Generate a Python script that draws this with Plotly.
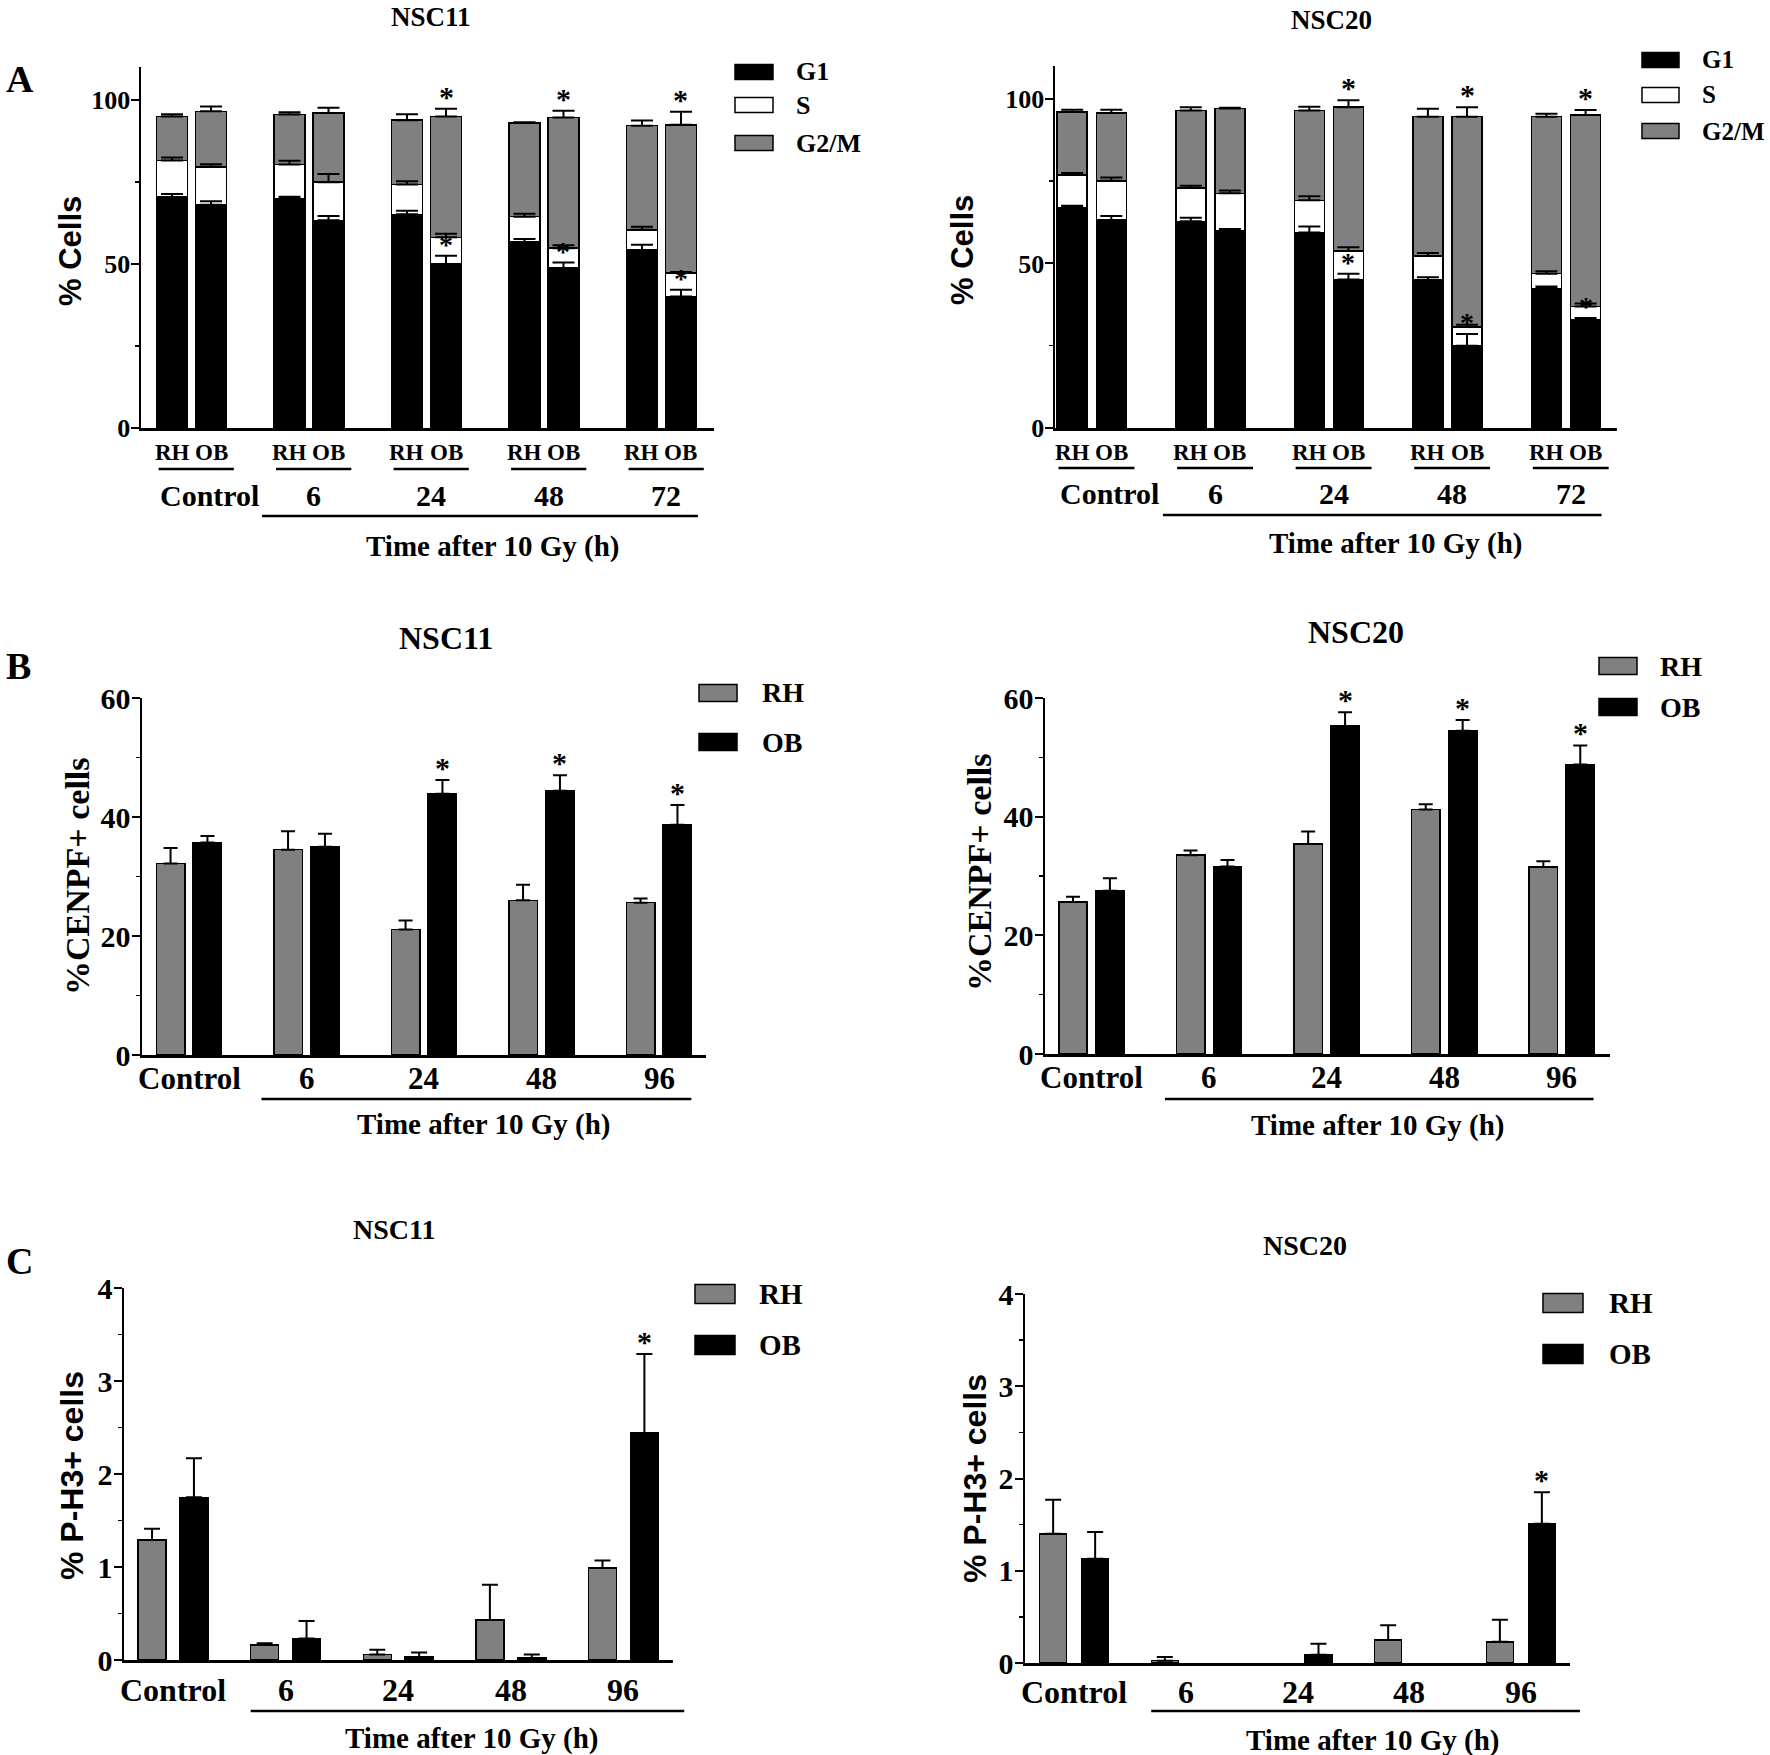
import plotly.graph_objects as go

W, H = 1770, 1755
SERIF = "Liberation Serif, Times New Roman, serif"
SANS = "Liberation Sans, Arial, sans-serif"
GRAY = "#808080"

# ---------------- data ----------------
groups_A = ["Control", "6", "24", "48", "72"]
groups_BC = ["Control", "6", "24", "48", "96"]
sub_labels = ["RH", "OB"]
phases = ["G1", "S", "G2/M"]

# Panel A - NSC11 (% cells in each phase)
a11_rh_g1 = [70.4, 70.0, 65.1, 56.7, 54.2]
a11_rh_s = [11.1, 10.3, 9.1, 7.7, 6.2]
a11_rh_g2m = [13.4, 15.2, 19.6, 28.5, 31.7]
a11_rh_g1_err = [0.9, 0.5, 1.1, 0.9, 1.6]
a11_rh_s_err = [0.9, 1.1, 1.0, 0.9, 0.9]
a11_rh_g2m_err = [0.7, 0.7, 1.8, 0.3, 1.6]
a11_ob_g1 = [68.0, 63.3, 50.0, 48.7, 40.1]
a11_ob_s = [11.6, 11.6, 8.1, 6.1, 7.1]
a11_ob_g2m = [16.9, 21.1, 36.8, 39.8, 45.2]
a11_ob_g1_err = [1.1, 1.3, 2.5, 1.7, 2.0]
a11_ob_s_err = [0.8, 2.5, 1.1, 0.9, 0.3]
a11_ob_g2m_err = [1.5, 1.6, 2.4, 2.1, 4.0]
a11_sig = [0, 0, 1, 1, 1]

# Panel A - NSC20
a20_rh_g1 = [67.0, 62.8, 59.4, 44.9, 42.4]
a20_rh_s = [9.9, 10.1, 9.8, 7.4, 4.5]
a20_rh_g2m = [19.1, 23.6, 27.3, 42.3, 47.7]
a20_rh_g1_err = [0.5, 1.1, 1.8, 0.9, 0.6]
a20_rh_s_err = [0.6, 0.7, 1.2, 0.9, 0.7]
a20_rh_g2m_err = [0.7, 1.0, 1.1, 2.4, 0.9]
a20_ob_g1 = [63.2, 59.8, 45.1, 25.0, 32.8]
a20_ob_s = [11.9, 11.5, 8.7, 5.7, 4.1]
a20_ob_g2m = [20.6, 25.8, 43.7, 63.9, 58.2]
a20_ob_g1_err = [1.2, 0.7, 1.8, 3.6, 0.6]
a20_ob_s_err = [1.0, 0.9, 1.1, 0.7, 0.9]
a20_ob_g2m_err = [1.0, 0.2, 2.1, 2.9, 1.5]
a20_sig = [0, 0, 1, 1, 1]

# Panel B - %CENPF+ cells
b11_rh = [32.2, 34.5, 21.1, 26.0, 25.6]
b11_rh_err = [2.6, 3.1, 1.5, 2.6, 0.7]
b11_ob = [35.7, 35.0, 43.9, 44.4, 38.7]
b11_ob_err = [1.1, 2.2, 2.3, 2.6, 3.3]
b11_sig = [0, 0, 1, 1, 1]
b20_rh = [25.6, 33.5, 35.4, 41.2, 31.5]
b20_rh_err = [0.9, 0.8, 2.1, 0.9, 1.0]
b20_ob = [27.5, 31.6, 55.3, 54.5, 48.8]
b20_ob_err = [2.1, 1.1, 2.3, 1.8, 3.2]
b20_sig = [0, 0, 1, 1, 1]

# Panel C - % P-H3+ cells
c11_rh = [1.29, 0.16, 0.06, 0.43, 0.99]
c11_rh_err = [0.12, 0.02, 0.05, 0.38, 0.08]
c11_ob = [1.75, 0.23, 0.03, 0.02, 2.44]
c11_ob_err = [0.42, 0.19, 0.05, 0.04, 0.85]
c11_sig = [0, 0, 0, 0, 1]
c20_rh = [1.40, 0.025, 0.0, 0.25, 0.23]
c20_rh_err = [0.37, 0.04, 0.0, 0.16, 0.24]
c20_ob = [1.13, 0.0, 0.09, 0.0, 1.51]
c20_ob_err = [0.29, 0.0, 0.12, 0.0, 0.34]
c20_sig = [0, 0, 0, 0, 1]

# ---------------- layout geometry (pixels) ----------------
panels = [
    dict(kind="A", groups=groups_A, title="NSC11", title_xy=(431, 17), title_fs=27,
         letter="A", letter_xy=(4, 79),
         px=(141, 714), py=(67, 428), xr=(-0.43, 4.447), yr=(0, 110), dtick=50, minor=25, tickfs=26,
         off=0.166, bw=0.264, cap=11,
         ytitle="% Cells", yt_font=SANS, yt_fs=31, yt_xy=(70, 251),
         sub_y=452, ul_y=469, grp_y=495, grp_fs=30, line_y=516, line_x=(0.60, 4.31),
         time_y=547, time_x=2.56,
         leg=dict(sq_x=(735, 773), sq_h=15, ys=[72, 105, 143], text_x=794, fs=26),
         data=dict(rh=[a11_rh_g1, a11_rh_s, a11_rh_g2m], rh_err=[a11_rh_g1_err, a11_rh_s_err, a11_rh_g2m_err],
                   ob=[a11_ob_g1, a11_ob_s, a11_ob_g2m], ob_err=[a11_ob_g1_err, a11_ob_s_err, a11_ob_g2m_err],
                   sig=a11_sig)),
    dict(kind="A", groups=groups_A, title="NSC20", title_xy=(1331, 20), title_fs=27,
         letter=None,
         px=(1055, 1617), py=(66, 428), xr=(-0.31, 4.43), yr=(0, 110), dtick=50, minor=25, tickfs=26,
         off=0.165, bw=0.253, cap=11,
         ytitle="% Cells", yt_font=SANS, yt_fs=31, yt_xy=(963, 250),
         sub_y=452, ul_y=468, grp_y=494, grp_fs=30, line_y=515, line_x=(0.60, 4.30),
         time_y=543, time_x=2.56,
         leg=dict(sq_x=(1642, 1679), sq_h=15, ys=[60, 95, 131], text_x=1700, fs=25),
         data=dict(rh=[a20_rh_g1, a20_rh_s, a20_rh_g2m], rh_err=[a20_rh_g1_err, a20_rh_s_err, a20_rh_g2m_err],
                   ob=[a20_ob_g1, a20_ob_s, a20_ob_g2m], ob_err=[a20_ob_g1_err, a20_ob_s_err, a20_ob_g2m_err],
                   sig=a20_sig)),
    dict(kind="B", groups=groups_BC, title="NSC11", title_xy=(446, 638), title_fs=32,
         letter="B", letter_xy=(4, 666),
         px=(142, 706), py=(698, 1055), xr=(-0.40, 4.40), yr=(0, 60), dtick=20, minor=10, tickfs=30,
         off=0.157, bw=0.243, cap=7,
         ytitle="%CENPF+ cells", yt_font=SERIF, yt_fs=34, yt_xy=(77, 876),
         grp_y=1078, grp_fs=31, line_y=1099, line_x=(0.617, 4.275), time_y=1124, time_x=2.51,
         leg=dict(sq_x=(699, 737), sq_h=17, ys=[693, 742], text_x=760, fs=28),
         data=dict(rh=b11_rh, rh_err=b11_rh_err, ob=b11_ob, ob_err=b11_ob_err, sig=b11_sig)),
    dict(kind="B", groups=groups_BC, title="NSC20", title_xy=(1356, 632), title_fs=32,
         letter=None,
         px=(1045, 1610), py=(698, 1054), xr=(-0.395, 4.41), yr=(0, 60), dtick=20, minor=10, tickfs=30,
         off=0.157, bw=0.242, cap=7,
         ytitle="%CENPF+ cells", yt_font=SERIF, yt_fs=34, yt_xy=(979, 872),
         grp_y=1077, grp_fs=31, line_y=1099, line_x=(0.625, 4.27), time_y=1125, time_x=2.43,
         leg=dict(sq_x=(1599, 1637), sq_h=17, ys=[666, 707], text_x=1658, fs=28),
         data=dict(rh=b20_rh, rh_err=b20_rh_err, ob=b20_ob, ob_err=b20_ob_err, sig=b20_sig)),
    dict(kind="C", groups=groups_BC, title="NSC11", title_xy=(394, 1229), title_fs=28,
         letter="C", letter_xy=(4, 1261),
         px=(124, 673), py=(1288, 1660), xr=(-0.435, 4.44), yr=(0, 4), dtick=1, minor=0.5, tickfs=30,
         off=0.186, bw=0.249, cap=8,
         ytitle="% P-H3+ cells", yt_font=SANS, yt_fs=32, yt_xy=(72, 1476),
         grp_y=1690, grp_fs=32, line_y=1711, line_x=(0.69, 4.54), time_y=1738, time_x=2.65,
         leg=dict(sq_x=(695, 735), sq_h=19, ys=[1294, 1345], text_x=757, fs=29),
         data=dict(rh=c11_rh, rh_err=c11_rh_err, ob=c11_ob, ob_err=c11_ob_err, sig=c11_sig)),
    dict(kind="C", groups=groups_BC, title="NSC20", title_xy=(1305, 1245), title_fs=28,
         letter=None,
         px=(1025, 1570), py=(1294, 1663), xr=(-0.44, 4.44), yr=(0, 4), dtick=1, minor=0.5, tickfs=30,
         off=0.188, bw=0.242, cap=8,
         ytitle="% P-H3+ cells", yt_font=SANS, yt_fs=32, yt_xy=(975, 1479),
         grp_y=1692, grp_fs=32, line_y=1711, line_x=(0.69, 4.53), time_y=1740, time_x=2.67,
         leg=dict(sq_x=(1543, 1583), sq_h=19, ys=[1303, 1354], text_x=1607, fs=29),
         data=dict(rh=c20_rh, rh_err=c20_rh_err, ob=c20_ob, ob_err=c20_ob_err, sig=c20_sig)),
]

fig = go.Figure()
layout = dict(width=W, height=H, autosize=False,
              margin=dict(l=0, r=0, t=0, b=0, pad=0, autoexpand=False),
              paper_bgcolor="white", plot_bgcolor="white", barmode="stack",
              showlegend=False, hovermode=False)
annotations = []
shapes = []


def pxx(P, xv):
    x0, x1 = P["px"]
    r0, r1 = P["xr"]
    return x0 + (xv - r0) / (r1 - r0) * (x1 - x0)


def text(t, x, y, size, family=SERIF, xanchor="center", yanchor="middle", angle=0):
    annotations.append(dict(text="<b>" + t + "</b>", x=x / W, y=1 - y / H, xref="paper", yref="paper",
                            showarrow=False, xanchor=xanchor, yanchor=yanchor, textangle=angle,
                            font=dict(family=family, size=size, color="black")))


def hline(x0, x1, y, width=2.5):
    shapes.append(dict(type="line", xref="paper", yref="paper", x0=x0 / W, x1=x1 / W,
                       y0=1 - y / H, y1=1 - y / H, line=dict(color="black", width=width)))


def rect(x0, x1, yc, h, color):
    shapes.append(dict(type="rect", xref="paper", yref="paper", x0=x0 / W, x1=x1 / W,
                       y0=1 - (yc + h / 2) / H, y1=1 - (yc - h / 2) / H,
                       fillcolor=color, line=dict(color="black", width=1.5)))


def err_trace(xs, tops, errs, cap, xa, ya):
    pts = [(x, t, e) for x, t, e in zip(xs, tops, errs) if e > 0]
    fig.add_trace(go.Scatter(
        x=[p[0] for p in pts], y=[p[1] for p in pts], mode="markers", xaxis=xa, yaxis=ya,
        marker=dict(size=1, color="rgba(0,0,0,0)"), hoverinfo="skip",
        error_y=dict(type="data", symmetric=False, array=[p[2] for p in pts],
                     arrayminus=[0] * len(pts), color="black", thickness=2, width=cap)))


def star(xa, ya, x, y, size=28):
    annotations.append(dict(text="<b>*</b>", x=x, y=y, xref=xa, yref=ya, showarrow=False,
                            xanchor="center", yanchor="bottom", yshift=-6,
                            font=dict(family=SERIF, size=size, color="black")))


def outline(vals):
    return [0 if v == 0 else 1.5 for v in vals]


for i, P in enumerate(panels, start=1):
    sfx = "" if i == 1 else str(i)
    xa, ya = "x" + sfx, "y" + sfx
    layout["xaxis" + sfx] = dict(domain=[P["px"][0] / W, P["px"][1] / W], range=list(P["xr"]),
                                 anchor=ya, showline=True, linecolor="black", linewidth=2.5,
                                 showticklabels=False, ticks="", showgrid=False, zeroline=False,
                                 fixedrange=True, automargin=False)
    layout["yaxis" + sfx] = dict(domain=[1 - P["py"][1] / H, 1 - P["py"][0] / H], range=list(P["yr"]),
                                 anchor=xa, showline=True, linecolor="black", linewidth=2.5,
                                 ticks="outside", ticklen=8, tickwidth=2, tickcolor="black",
                                 tick0=0, dtick=P["dtick"], ticklabelstandoff=-5,
                                 minor=dict(dtick=P["minor"], ticks="outside", ticklen=4,
                                            tickwidth=1.5, tickcolor="black"),
                                 tickfont=dict(family=SERIF, size=P["tickfs"], color="black", weight="bold"),
                                 showgrid=False, zeroline=False, fixedrange=True, automargin=False)

    n = len(P["groups"])
    g = list(range(n))
    x_rh = [k - P["off"] for k in g]
    x_ob = [k + P["off"] for k in g]
    D = P["data"]

    if P["kind"] == "A":
        colors = ["black", "white", GRAY]
        xs = x_rh + x_ob
        tops = [0.0] * (2 * n)
        for ph in range(3):
            vals = D["rh"][ph] + D["ob"][ph]
            errs = D["rh_err"][ph] + D["ob_err"][ph]
            fig.add_trace(go.Bar(x=xs, y=vals, width=P["bw"], xaxis=xa, yaxis=ya, name=phases[ph],
                                 marker=dict(color=colors[ph], line=dict(color="black", width=outline(vals)))))
            tops = [t + v for t, v in zip(tops, vals)]
            err_trace(xs, tops, errs, P["cap"], xa, ya)
        for k in g:
            if D["sig"][k]:
                g1_top = D["ob"][0][k] + D["ob_err"][0][k]
                tot = D["ob"][0][k] + D["ob"][1][k] + D["ob"][2][k] + D["ob_err"][2][k]
                star(xa, ya, x_ob[k], g1_top, 28)
                star(xa, ya, x_ob[k], tot, 30)
        for k in g:
            text(sub_labels[0], pxx(P, x_rh[k]), P["sub_y"], 23)
            text(sub_labels[1], pxx(P, x_ob[k]), P["sub_y"], 23)
            hline(pxx(P, k - 0.28), pxx(P, k + 0.36), P["ul_y"], 2.5)
        for k in g:
            dx = 0.15 if k == 0 else 0.04
            text(P["groups"][k], pxx(P, k + dx), P["grp_y"], P["grp_fs"])
        leg_items = [("G1", "black"), ("S", "white"), ("G2/M", GRAY)]
    else:
        fig.add_trace(go.Bar(x=x_rh, y=D["rh"], width=P["bw"], xaxis=xa, yaxis=ya, name="RH",
                             marker=dict(color=GRAY, line=dict(color="black", width=outline(D["rh"])))))
        fig.add_trace(go.Bar(x=x_ob, y=D["ob"], width=P["bw"], xaxis=xa, yaxis=ya, name="OB",
                             marker=dict(color="black", line=dict(color="black", width=outline(D["ob"])))))
        err_trace(x_rh, D["rh"], D["rh_err"], P["cap"], xa, ya)
        err_trace(x_ob, D["ob"], D["ob_err"], P["cap"], xa, ya)
        for k in g:
            if D["sig"][k]:
                star(xa, ya, x_ob[k], D["ob"][k] + D["ob_err"][k], 30)
        for k in g:
            text(P["groups"][k], pxx(P, k), P["grp_y"], P["grp_fs"])
        leg_items = [("RH", GRAY), ("OB", "black")]

    hline(pxx(P, P["line_x"][0]), pxx(P, P["line_x"][1]), P["line_y"], 2.5)
    text("Time after 10 Gy (h)", pxx(P, P["time_x"]), P["time_y"], 29)

    text(P["title"], P["title_xy"][0], P["title_xy"][1], P["title_fs"])
    if P["letter"]:
        text(P["letter"], P["letter_xy"][0], P["letter_xy"][1], 38, xanchor="left")
    text(P["ytitle"], P["yt_xy"][0], P["yt_xy"][1], P["yt_fs"], family=P["yt_font"], angle=-90)

    L = P["leg"]
    for (lab, col), yc in zip(leg_items, L["ys"]):
        rect(L["sq_x"][0], L["sq_x"][1], yc, L["sq_h"], col)
        text(lab, L["text_x"], yc, L["fs"], xanchor="left")

layout["annotations"] = annotations
layout["shapes"] = shapes
fig.update_layout(**layout)
fig.write_html(
    "out.html",
    config={"displayModeBar": False, "staticPlot": True},
    post_script=("document.documentElement.style.margin='0';document.body.style.margin='0';"
                 "document.body.style.padding='0';"
                 "var d=document.getElementById('{plot_id}');"
                 "d.style.position='fixed';d.style.top='0px';d.style.left='0px';"),
)
